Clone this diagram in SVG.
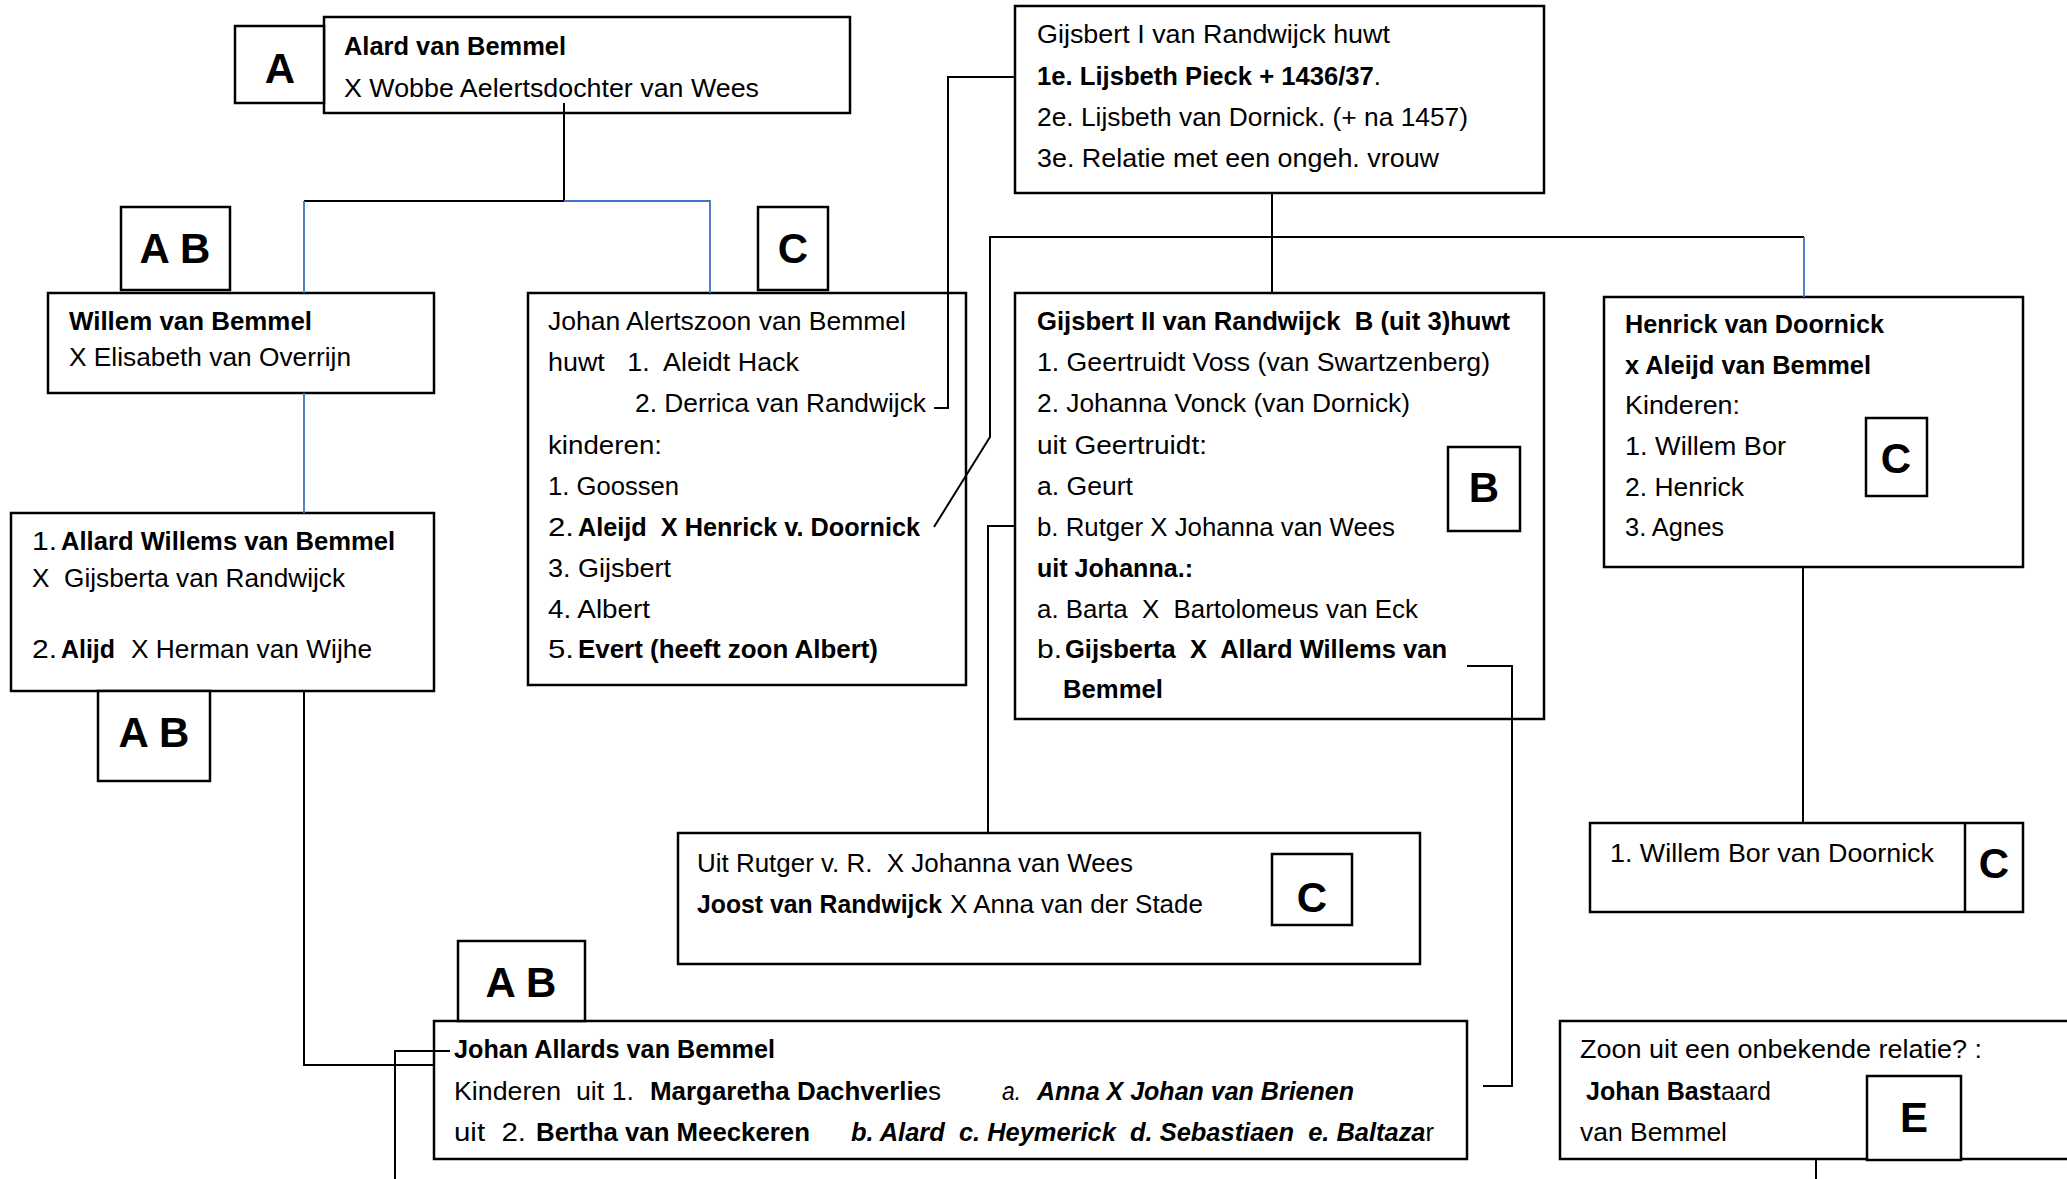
<svg xmlns="http://www.w3.org/2000/svg" width="2067" height="1179" viewBox="0 0 2067 1179">
<style>
text{font-family:"Liberation Sans",Arial,sans-serif;font-size:26px;fill:#000}
.b{font-weight:bold}
.i{font-style:italic}
.bi{font-weight:bold;font-style:italic}
.n{font-weight:normal;font-style:normal}
.lab{font-weight:bold;font-size:42px;text-anchor:middle}
.box{fill:#fff;stroke:#000;stroke-width:2.5}
.ln{fill:none;stroke:#000;stroke-width:2}
.bl{fill:none;stroke:#4472C4;stroke-width:1.8}
</style>
<rect width="2067" height="1179" fill="#fff"/>
<g id="alard">
<rect class="box" x="324" y="17" width="526" height="96"/>
<text class="b" x="344" y="55" textLength="222" lengthAdjust="spacingAndGlyphs">Alard van Bemmel</text>
<text x="344" y="97" textLength="415" lengthAdjust="spacingAndGlyphs">X Wobbe Aelertsdochter van Wees</text>
</g>
<g id="label-a"><rect class="box" x="235" y="26" width="89" height="77"/><text class="lab" x="280" y="83">A</text></g>
<g id="willem">
<rect class="box" x="48" y="293" width="386" height="100"/>
<text class="b" x="69" y="330" textLength="243" lengthAdjust="spacingAndGlyphs">Willem van Bemmel</text>
<text x="69" y="366" textLength="282" lengthAdjust="spacingAndGlyphs">X Elisabeth van Overrijn</text>
</g>
<g id="label-ab1"><rect class="box" x="121" y="207" width="109" height="83"/><text class="lab" x="175" y="263">A B</text></g>
<g id="johan-alertszoon">
<rect class="box" x="528" y="293" width="438" height="392"/>
<text x="548" y="330" textLength="358" lengthAdjust="spacingAndGlyphs">Johan Alertszoon van Bemmel</text>
<text x="548" y="371" textLength="251" lengthAdjust="spacingAndGlyphs" xml:space="preserve">huwt   1.  Aleidt Hack</text>
<text x="635" y="412" textLength="291" lengthAdjust="spacingAndGlyphs">2. Derrica van Randwijck</text>
<text x="548" y="454" textLength="114" lengthAdjust="spacingAndGlyphs">kinderen:</text>
<text x="548" y="495" textLength="131" lengthAdjust="spacingAndGlyphs">1. Goossen</text>
<text x="548" y="536" textLength="26" lengthAdjust="spacingAndGlyphs">2.</text>
<text class="b" x="578" y="536" textLength="342" lengthAdjust="spacingAndGlyphs" xml:space="preserve">Aleijd  X Henrick v. Doornick</text>
<text x="548" y="577" textLength="123" lengthAdjust="spacingAndGlyphs">3. Gijsbert</text>
<text x="548" y="618" textLength="102" lengthAdjust="spacingAndGlyphs">4. Albert</text>
<text x="548" y="658" textLength="26" lengthAdjust="spacingAndGlyphs">5.</text>
<text class="b" x="578" y="658" textLength="300" lengthAdjust="spacingAndGlyphs">Evert (heeft zoon Albert)</text>
</g>
<g id="label-c1"><rect class="box" x="758" y="207" width="70" height="83"/><text class="lab" x="793" y="263">C</text></g>
<g id="allard-willems">
<rect class="box" x="11" y="513" width="423" height="178"/>
<text x="32" y="550" textLength="25" lengthAdjust="spacingAndGlyphs">1.</text>
<text class="b" x="61" y="550" textLength="334" lengthAdjust="spacingAndGlyphs">Allard Willems van Bemmel</text>
<text x="32" y="587" textLength="313" lengthAdjust="spacingAndGlyphs" xml:space="preserve">X  Gijsberta van Randwijck</text>
<text x="32" y="658" textLength="25" lengthAdjust="spacingAndGlyphs">2.</text>
<text class="b" x="61" y="658" textLength="54" lengthAdjust="spacingAndGlyphs">Alijd</text>
<text x="131" y="658" textLength="241" lengthAdjust="spacingAndGlyphs">X Herman van Wijhe</text>
</g>
<g id="label-ab2"><rect class="box" x="98" y="691" width="112" height="90"/><text class="lab" x="154" y="747">A B</text></g>
<g id="gijsbert1">
<rect class="box" x="1015" y="6" width="529" height="187"/>
<text x="1037" y="43" textLength="353" lengthAdjust="spacingAndGlyphs">Gijsbert I van Randwijck huwt</text>
<text class="b" x="1037" y="85" textLength="344" lengthAdjust="spacingAndGlyphs">1e. Lijsbeth Pieck + 1436/37<tspan class="n">.</tspan></text>
<text x="1037" y="126" textLength="431" lengthAdjust="spacingAndGlyphs">2e. Lijsbeth van Dornick. (+ na 1457)</text>
<text x="1037" y="167" textLength="402" lengthAdjust="spacingAndGlyphs">3e. Relatie met een ongeh. vrouw</text>
</g>
<g id="gijsbert2">
<rect class="box" x="1015" y="293" width="529" height="426"/>
<text class="b" x="1037" y="330" textLength="473" lengthAdjust="spacingAndGlyphs" xml:space="preserve">Gijsbert II van Randwijck  B (uit 3)huwt</text>
<text x="1037" y="371" textLength="453" lengthAdjust="spacingAndGlyphs">1. Geertruidt Voss (van Swartzenberg)</text>
<text x="1037" y="412" textLength="373" lengthAdjust="spacingAndGlyphs">2. Johanna Vonck (van Dornick)</text>
<text x="1037" y="454" textLength="170" lengthAdjust="spacingAndGlyphs">uit Geertruidt:</text>
<text x="1037" y="495" textLength="96" lengthAdjust="spacingAndGlyphs">a. Geurt</text>
<text x="1037" y="536" textLength="358" lengthAdjust="spacingAndGlyphs">b. Rutger X Johanna van Wees</text>
<text class="b" x="1037" y="577" textLength="156" lengthAdjust="spacingAndGlyphs">uit Johanna.:</text>
<text x="1037" y="618" textLength="381" lengthAdjust="spacingAndGlyphs" xml:space="preserve">a. Barta  X  Bartolomeus van Eck</text>
<text x="1037" y="658" textLength="25" lengthAdjust="spacingAndGlyphs">b.</text>
<text class="b" x="1065" y="658" textLength="382" lengthAdjust="spacingAndGlyphs" xml:space="preserve">Gijsberta  X  Allard Willems van</text>
<text class="b" x="1063" y="698" textLength="100" lengthAdjust="spacingAndGlyphs">Bemmel</text>
</g>
<g id="label-b"><rect class="box" x="1448" y="447" width="72" height="84"/><text class="lab" x="1484" y="502">B</text></g>
<g id="henrick">
<rect class="box" x="1604" y="297" width="419" height="270"/>
<text class="b" x="1625" y="333" textLength="259" lengthAdjust="spacingAndGlyphs">Henrick van Doornick</text>
<text class="b" x="1625" y="374" textLength="246" lengthAdjust="spacingAndGlyphs">x Aleijd van Bemmel</text>
<text x="1625" y="414" textLength="115" lengthAdjust="spacingAndGlyphs">Kinderen:</text>
<text x="1625" y="455" textLength="161" lengthAdjust="spacingAndGlyphs">1. Willem Bor</text>
<text x="1625" y="496" textLength="119" lengthAdjust="spacingAndGlyphs">2. Henrick</text>
<text x="1625" y="536" textLength="99" lengthAdjust="spacingAndGlyphs">3. Agnes</text>
</g>
<g id="label-c2"><rect class="box" x="1866" y="418" width="61" height="78"/><text class="lab" x="1896" y="473">C</text></g>
<g id="willem-bor">
<rect class="box" x="1590" y="823" width="433" height="89"/>
<line x1="1965" y1="823" x2="1965" y2="912" stroke="#000" stroke-width="2.5"/>
<text x="1610" y="862" textLength="324" lengthAdjust="spacingAndGlyphs">1. Willem Bor van Doornick</text>
<text class="lab" x="1994" y="878">C</text>
</g>
<g id="rutger">
<rect class="box" x="678" y="833" width="742" height="131"/>
<text x="697" y="872" textLength="436" lengthAdjust="spacingAndGlyphs" xml:space="preserve">Uit Rutger v. R.  X Johanna van Wees</text>
<text class="b" x="697" y="913" textLength="245" lengthAdjust="spacingAndGlyphs">Joost van Randwijck</text>
<text x="950" y="913" textLength="253" lengthAdjust="spacingAndGlyphs">X Anna van der Stade</text>
</g>
<g id="label-c3"><rect class="box" x="1272" y="854" width="80" height="71"/><text class="lab" x="1312" y="912">C</text></g>
<g id="johan-allards">
<rect class="box" x="434" y="1021" width="1033" height="138"/>
<text class="b" x="454" y="1058" textLength="321" lengthAdjust="spacingAndGlyphs">Johan Allards van Bemmel</text>
<text x="454" y="1100" textLength="180" lengthAdjust="spacingAndGlyphs" xml:space="preserve">Kinderen  uit 1.</text>
<text class="b" x="650" y="1100" textLength="291" lengthAdjust="spacingAndGlyphs">Margaretha Dachverlie<tspan class="n">s</tspan></text>
<text class="i" x="1002" y="1100" textLength="19" lengthAdjust="spacingAndGlyphs">a.</text>
<text class="bi" x="1037" y="1100" textLength="317" lengthAdjust="spacingAndGlyphs">Anna X Johan van Brienen</text>
<text x="454" y="1141" textLength="72" lengthAdjust="spacingAndGlyphs" xml:space="preserve">uit  2.</text>
<text class="b" x="536" y="1141" textLength="274" lengthAdjust="spacingAndGlyphs">Bertha van Meeckeren</text>
<text class="bi" x="851" y="1141" textLength="583" lengthAdjust="spacingAndGlyphs" xml:space="preserve">b. Alard  c. Heymerick  d. Sebastiaen  e. Baltaza<tspan class="n">r</tspan></text>
</g>
<g id="label-ab3"><rect class="box" x="458" y="941" width="127" height="80"/><text class="lab" x="521" y="997">A B</text></g>
<g id="zoon">
<rect class="box" x="1560" y="1021" width="520" height="138"/>
<text x="1580" y="1058" textLength="402" lengthAdjust="spacingAndGlyphs">Zoon uit een onbekende relatie? :</text>
<text class="b" x="1586" y="1100" textLength="185" lengthAdjust="spacingAndGlyphs">Johan Bast<tspan class="n">aard</tspan></text>
<text x="1580" y="1141" textLength="147" lengthAdjust="spacingAndGlyphs">van Bemmel</text>
</g>
<g id="label-e"><rect class="box" x="1867" y="1076" width="94" height="84"/><text class="lab" x="1914" y="1132">E</text></g>
<g id="connectors">
<polyline class="ln" points="564,103 564,201 304,201"/>
<polyline class="bl" points="564,201 710,201 710,293"/>
<line class="bl" x1="304" y1="201" x2="304" y2="293"/>
<line class="bl" x1="304" y1="393" x2="304" y2="513"/>
<polyline class="ln" points="934,408 948,408 948,77 1015,77"/>
<line class="ln" x1="1272" y1="193" x2="1272" y2="293"/>
<polyline class="ln" points="934,527 990,437 990,237 1804,237"/>
<line class="bl" x1="1804" y1="237" x2="1804" y2="297"/>
<polyline class="ln" points="1015,526 988,526 988,833"/>
<polyline class="ln" points="304,691 304,1065 434,1065"/>
<polyline class="ln" points="450,1051 395,1051 395,1179"/>
<polyline class="ln" points="1467,666 1512,666 1512,1086 1483,1086"/>
<line class="ln" x1="1803" y1="567" x2="1803" y2="823"/>
<line class="ln" x1="1816" y1="1159" x2="1816" y2="1179"/>
</g>
</svg>
